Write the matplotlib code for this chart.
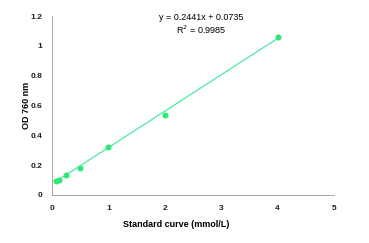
import numpy as np
import matplotlib.pyplot as plt

plt.rcParams['font.family'] = ['Liberation Sans', 'DejaVu Sans']

# Standard curve data
conc = [0.0625, 0.125, 0.25, 0.5, 1, 2, 4]
od = [0.09, 0.10, 0.135, 0.18, 0.32, 0.535, 1.06]
slope = 0.2441
intercept = 0.0735
x_ticks = [0, 1, 2, 3, 4, 5]
y_ticks = [0, 0.2, 0.4, 0.6, 0.8, 1, 1.2]
y_labels = ['0', '0.2', '0.4', '0.6', '0.8', '1', '1.2']

green = '#2ee87a'

fig = plt.figure(figsize=(3.69, 2.43), dpi=100)
ax = fig.add_axes([0.141, 0.198, 0.764, 0.736])

# Linear fit line
xl = np.array([conc[0], conc[-1]])
ax.plot(xl, slope * xl + intercept, color='#3ae89a', lw=0.8)
ax.scatter(conc, od, color=green, s=11, zorder=3)

ax.set_xlim(0, 5)
ax.set_ylim(0, 1.2)
ax.set_xticks(x_ticks)
ax.set_xticklabels([str(t) for t in x_ticks])
ax.set_yticks(y_ticks)
ax.set_yticklabels(y_labels)
ax.tick_params(length=0, labelsize=6, pad=7, colors='#222222')
for lab in ax.get_xticklabels() + ax.get_yticklabels():
    lab.set_fontweight('bold')

for s in ['top', 'right']:
    ax.spines[s].set_visible(False)
for s in ['left', 'bottom']:
    ax.spines[s].set_color('#999999')
    ax.spines[s].set_linewidth(0.6)

ax.set_ylabel('OD 760 nm', fontsize=6.5, fontweight='bold')
ax.yaxis.set_label_coords(-0.074, 0.5)
ax.set_xlabel('Standard curve (mmol/L)', fontsize=6.5, fontweight='bold')
ax.xaxis.set_label_coords(0.44, -0.14)

ax.text(2.65, 1.187, 'y = 0.2441x + 0.0735', fontsize=6.5, ha='center', va='center')
ax.text(2.65, 1.106, 'R$^2$ = 0.9985', fontsize=6.5, ha='center', va='center')

fig.savefig('out.png', dpi=100)
